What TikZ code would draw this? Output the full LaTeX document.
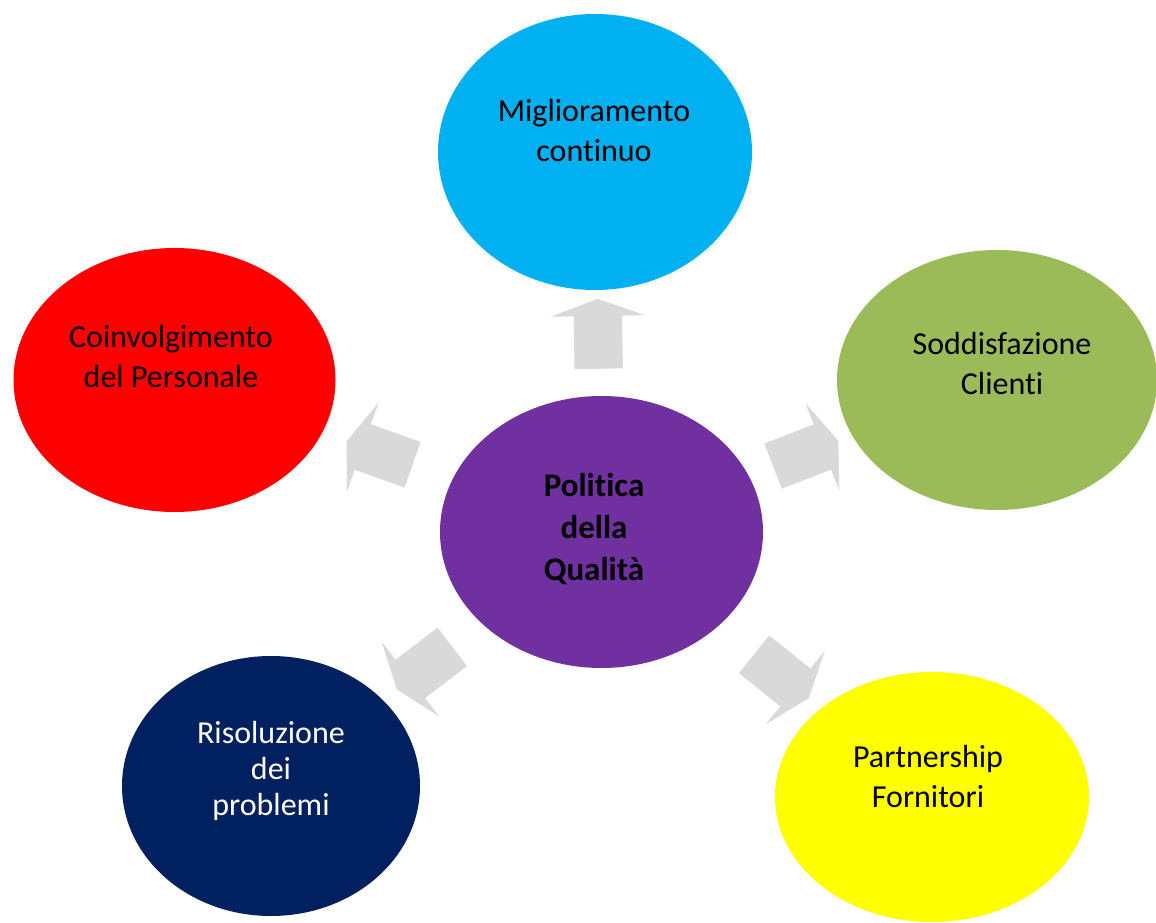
\documentclass[tikz,border=0pt]{standalone}
\usepackage{fontspec}
\setmainfont{Carlito}[Ligatures=CommonOff, Contextuals=NoAlternate]
\usepackage{tikz}
\usetikzlibrary{shapes.geometric, shapes.arrows, positioning}
\usepackage{xcolor}
\definecolor{qualcyan}{RGB}{0,176,240}
\definecolor{qualred}{RGB}{255,0,0}
\definecolor{qualgreen}{RGB}{155,187,89}
\definecolor{qualpurple}{RGB}{112,48,160}
\definecolor{qualnavy}{RGB}{0,32,96}
\definecolor{qualyellow}{RGB}{255,255,0}
\definecolor{arrowgrey}{RGB}{217,217,217}
\tikzset{bubble/.style={ellipse, draw=none, inner sep=0pt},
bubbletext/.style={anchor=base, align=center, text=black, font=\fontsize{32}{40}\selectfont},
greyarrow/.style={single arrow, fill=arrowgrey, draw=none, inner xsep=0pt, inner ysep=24pt, minimum height=70pt, single arrow head extend=23pt, single arrow tip angle=140, sloped, allow upside down}}

\begin{document}
\begin{tikzpicture}
        \useasboundingbox (0pt, 0pt) rectangle (1156pt, 922pt);
        \clip (0pt, 0pt) rectangle (1156pt, 922pt);
        % Ellipses
        \node[bubble, fill=qualpurple, minimum width=323pt, minimum height=272pt] (politica) at (601.5pt, 390pt) {};
        \node[bubble, fill=qualcyan, minimum width=314pt, minimum height=276pt] (miglioramento) at (595pt, 770pt) {};
        \node[bubble, fill=qualred, minimum width=322pt, minimum height=264pt] (coinvolgimento) at (174.5pt, 542pt) {};
        \node[bubble, fill=qualgreen, minimum width=320pt, minimum height=260pt] (soddisfazione) at (997pt, 542pt) {};
        \node[bubble, fill=qualnavy, minimum width=298pt, minimum height=260pt] (risoluzione) at (271pt, 136pt) {};
        \node[bubble, fill=qualyellow, minimum width=314pt, minimum height=250pt] (partnership) at (932pt, 125pt) {};
        % Labels (base = last line)
        \node[bubbletext, font=\bfseries\fontsize{33}{42}\selectfont] (politicatext) at (594pt, 342pt) {Politica\\della\\Qualità};
        \node[bubbletext] (miglioramentotext) at (594pt, 760pt) {Miglioramento\\continuo};
        \node[bubbletext] (coinvolgimentotext) at (171pt, 534pt) {Coinvolgimento\\del Personale};
        \node[bubbletext] (soddisfazionetext) at (1002pt, 527pt) {Soddisfazione\\Clienti};
        \node[bubbletext, text=white, font=\fontsize{32}{36}\selectfont] (risoluzionetext) at (271pt, 107pt) {Risoluzione\\dei\\problemi};
        \node[bubbletext] (partnershiptext) at (928pt, 115pt) {Partnership\\Fornitori};
        % Arrows
        \path (politica.center) -- (miglioramento.center) node[greyarrow, pos=0.51] (arrowtop) {};
        \path (politica.center) -- (coinvolgimento.center) node[greyarrow, pos=0.51] (arrowleft) {};
        \path (politica.center) -- (soddisfazione.center) node[greyarrow, pos=0.506] (arrowright) {};
        \path (politica.center) -- (risoluzione.center) node[greyarrow, pos=0.525] (arrowbottomleft) {};
        \path (politica.center) -- (partnership.center) node[greyarrow, pos=0.534] (arrowbottomright) {};
\end{tikzpicture}
\end{document}
